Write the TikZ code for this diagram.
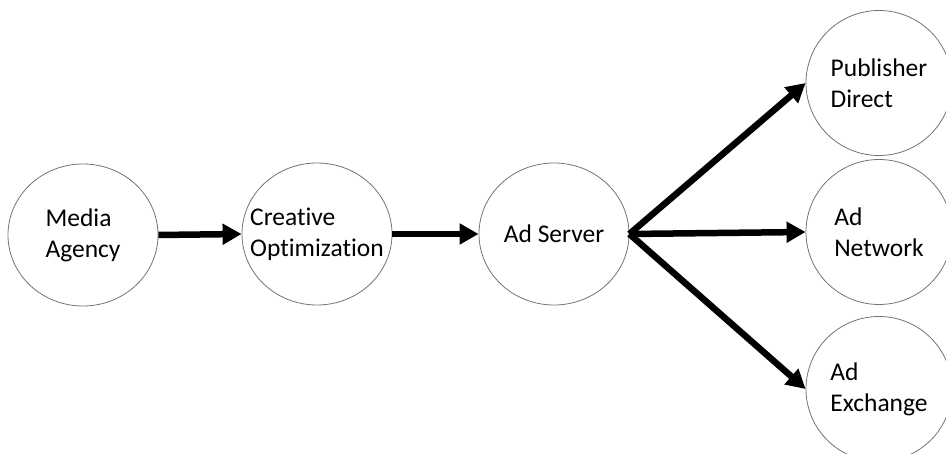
\documentclass[tikz,border=0pt]{standalone}
\usepackage{fontspec}
\setmainfont[Ligatures=CommonOff]{Carlito}
\usetikzlibrary{arrows.meta,shapes.geometric}
\begin{document}
\begin{tikzpicture}[x=1pt,y=-1pt,
  bubble/.style={ellipse,draw=black!55,line width=0.8pt,minimum width=150pt,minimum height=142pt,inner xsep=-16pt,inner ysep=-10pt,align=left,font=\fontsize{25.5}{31}\selectfont},
  flow/.style={line width=6.5pt,-{Triangle[length=19pt,width=20pt]}}]
\useasboundingbox (0,0) rectangle (946,454);
\node[bubble] (ma) at (83,235) {Media\\Agency};
\node[bubble] (co) at (317,234) {Creative\\Optimization};
\node[bubble] (as) at (554,234) {Ad Server};
\node[bubble,minimum width=146pt,minimum height=145pt] (pd) at (879,83) {Publisher\\Direct};
\node[bubble,minimum width=146pt,minimum height=145pt] (an) at (879,232) {Ad\\Network};
\node[bubble,minimum width=146pt,minimum height=145pt] (ae) at (879,389) {Ad\\Exchange};
\draw[flow] (ma.east) -- (co.west);
\draw[flow] (co.east) -- (as.west);
\draw[flow] (as.east) -- (pd.west);
\draw[flow] (as.east) -- (an.west);
\draw[flow] (as.east) -- (ae.west);
\end{tikzpicture}
\end{document}
